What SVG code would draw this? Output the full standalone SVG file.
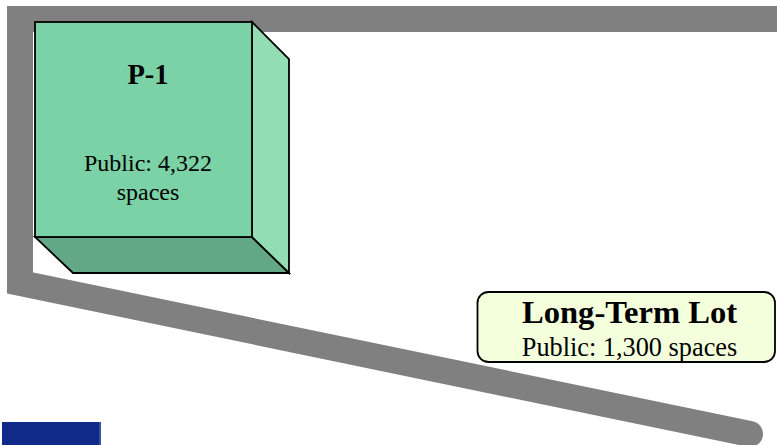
<svg xmlns="http://www.w3.org/2000/svg" width="777" height="445" viewBox="0 0 777 445">
<style>
.road{fill:none;stroke:#808080;stroke-width:26;stroke-linejoin:miter;stroke-linecap:round}
.edge{stroke:#000;stroke-width:1.8;stroke-linejoin:miter}
.t{font-family:"Liberation Serif","Times New Roman",serif;fill:#000;text-anchor:middle}
.b{font-weight:bold}
</style>
<rect width="777" height="445" fill="#fff"/>
<g id="connectors">
<path class="road" d="M800 19 L20 19 L20 283 L750 434"/>
</g>
<g id="p1">
<polygon class="edge" fill="#63A886" points="35,237 252,237 289,273 73,273"/>
<polygon class="edge" fill="#93DDB5" points="252,22 289,59 289,273 252,237"/>
<rect class="edge" x="35" y="22" width="217" height="215" fill="#7BD2A6"/>
<text class="t b" x="148" y="84" font-size="28.5">P-1</text>
<text class="t" x="148" y="171" font-size="24">Public: 4,322</text>
<text class="t" x="148" y="200" font-size="24">spaces</text>
</g>
<g id="longterm">
<rect class="edge" x="477.5" y="292" width="297.5" height="70" rx="11" fill="#F4FFDC" stroke-width="1.5"/>
<text class="t b" x="629.5" y="322.5" font-size="32.6">Long-Term Lot</text>
<text class="t" x="629.5" y="355.5" font-size="26.3">Public: 1,300 spaces</text>
</g>
<g id="bluebar">
<rect x="2" y="422" width="99" height="23" fill="#0F2A88"/>
<rect x="99" y="422" width="2" height="23" fill="#3A4FA0"/>
</g>
</svg>
